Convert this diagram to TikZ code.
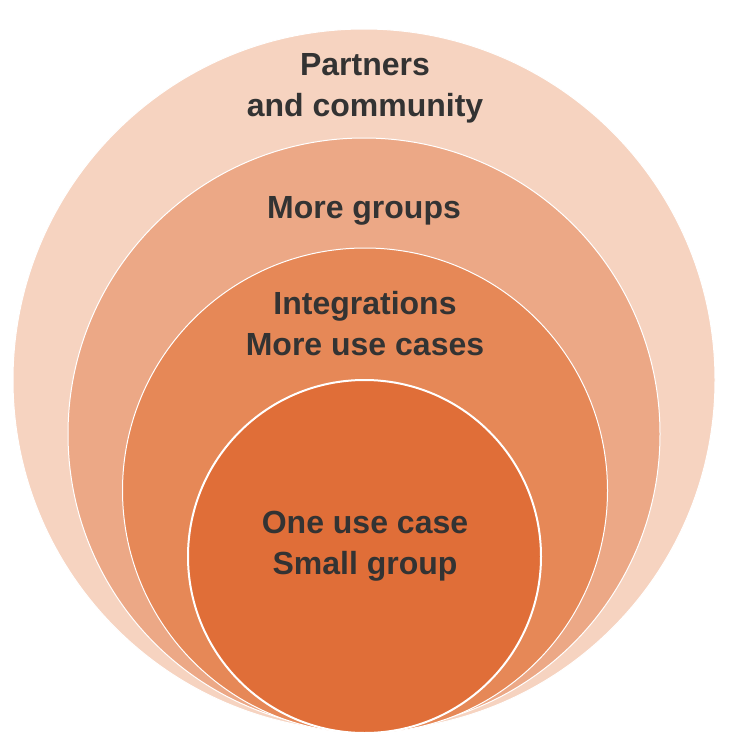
\documentclass[tikz,border=0pt]{standalone}
\usepackage{fontspec}
\setmainfont{Liberation Sans}
\definecolor{ring1}{HTML}{F6D3C0}
\definecolor{ring2}{HTML}{ECA886}
\definecolor{ring3}{HTML}{E68857}
\definecolor{ring4}{HTML}{E06E38}
\definecolor{txt}{HTML}{333333}
\begin{document}
\begin{tikzpicture}[x=1pt,y=-1pt,
  ring/.style={draw=white,line width=1pt},
  core/.style={draw=white,line width=2pt},
  lbl/.style={anchor=base,align=center,text=txt,inner sep=0pt,
    font=\fontsize{32}{41}\selectfont\bfseries}]
\useasboundingbox (0,0) rectangle (736,752);
\fill[ring1,ring] (364,380) circle[radius=351pt];
\fill[ring2,ring] (364,434) circle[radius=296pt];
\fill[ring3,ring] (365,490.5) circle[radius=242.5pt];
\fill[ring4,core] (364.5,556.5) circle[radius=176.5pt];
\node[lbl] (partners) at (365,116) {Partners\\and community};
\node[lbl] (groups) at (364,218) {More groups};
\node[lbl] (integ) at (365,355) {Integrations\\More use cases};
\node[lbl] (one) at (365,574) {One use case\\Small group};
\end{tikzpicture}
\end{document}
